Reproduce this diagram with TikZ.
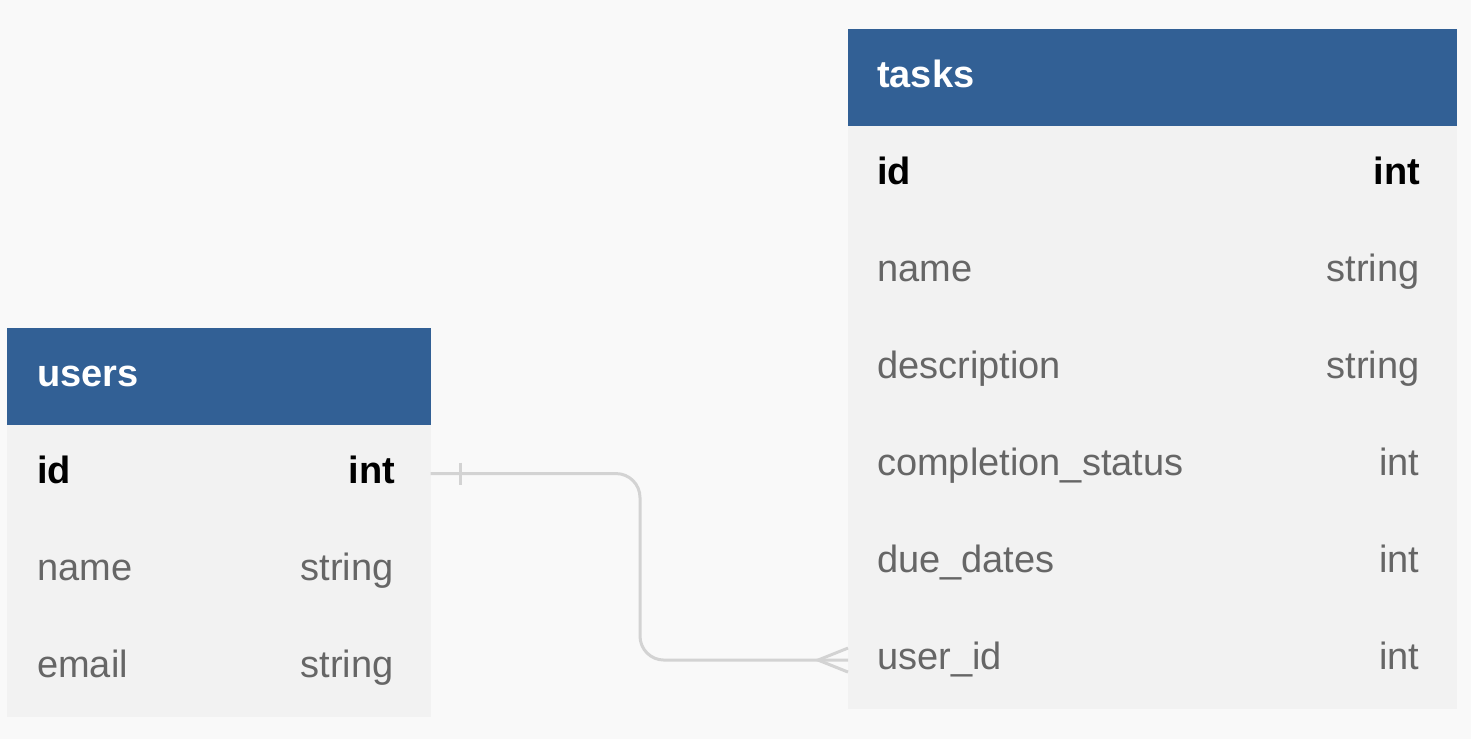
\documentclass[tikz,border=0pt]{standalone}
\usepackage{fontspec}
\setmainfont{Liberation Sans}
\definecolor{hdrblue}{HTML}{326095}
\definecolor{rowgray}{HTML}{F2F2F2}
\definecolor{bggray}{HTML}{F9F9F9}
\definecolor{txtgray}{HTML}{666666}
\definecolor{linkgray}{HTML}{D3D3D3}
\tikzset{
  hdr/.style={fill=hdrblue, draw=hdrblue, line width=0.6pt, inner sep=0pt, minimum height=96.5pt, anchor=north west},
  row/.style={fill=rowgray, draw=rowgray, line width=0.6pt, inner sep=0pt, minimum height=96.5pt, anchor=north west},
  hdrtxt/.style={text=white, font=\fontsize{38}{44}\selectfont\bfseries, inner sep=0pt, anchor=mid west, yshift=-7pt},
  keytxt/.style={text=black, font=\fontsize{38}{44}\selectfont\bfseries, inner sep=0pt, yshift=-7pt},
  coltxt/.style={text=txtgray, font=\fontsize{38}{44}\selectfont, inner sep=0pt, yshift=-7pt},
  link/.style={draw=linkgray, line width=3pt}
}
\begin{document}
\begin{tikzpicture}[x=1pt, y=-1pt]
  \fill[bggray] (0,0) rectangle (1471,739);
  \useasboundingbox (0,0) rectangle (1471,739);

  % users table
  \node[row, minimum width=423pt] (u1) at (7,425) {};
  \node[row, minimum width=423pt] (u2) at (u1.south west) {};
  \node[row, minimum width=423pt] (u3) at (u2.south west) {};
  \node[hdr, minimum width=423pt, anchor=south west] (users) at (u1.north west) {};
  \node[hdrtxt] (usersname) at ([xshift=30pt]users.west) {users};
  \node[keytxt, anchor=mid west] (u1a) at ([xshift=30pt]u1.west) {id};
  \node[keytxt, anchor=mid east] (u1b) at ([xshift=-35pt]u1.east) {int};
  \node[coltxt, anchor=mid west] (u2a) at ([xshift=30pt]u2.west) {name};
  \node[coltxt, anchor=mid east] (u2b) at ([xshift=-37pt]u2.east) {string};
  \node[coltxt, anchor=mid west] (u3a) at ([xshift=30pt]u3.west) {email};
  \node[coltxt, anchor=mid east] (u3b) at ([xshift=-37pt]u3.east) {string};

  % tasks table
  \node[row, minimum width=608pt] (t1) at (848,126) {};
  \foreach \n/\k/\t [count=\i from 2, evaluate=\i as \p using int(\i-1)] in
      {name/name/string, description/description/string,
       status/completion\_status/int, due/due\_dates/int, user/user\_id/int} {
    \node[row, minimum width=608pt] (t\i) at (t\p.south west) {};
    \node[coltxt, anchor=mid west] (t\i a) at ([xshift=29pt]t\i.west) {\k};
    \node[coltxt, anchor=mid east] (t\i b) at ([xshift=-37pt]t\i.east) {\t};
  }
  \node[hdr, minimum width=608pt, anchor=south west] (tasks) at (t1.north west) {};
  \node[hdrtxt] (tasksname) at ([xshift=29pt]tasks.west) {tasks};
  \node[keytxt, anchor=mid west] (t1a) at ([xshift=29pt]t1.west) {id};
  \node[keytxt, anchor=mid east] (t1b) at ([xshift=-36pt]t1.east) {int};

  % relation users.id -- tasks.user_id
  \coordinate (bend) at (640,0);
  \draw[link, rounded corners=24pt] (u1.east) -- (bend |- u1.east) -- (bend |- t6.west) -- (t6.west);
  \draw[link] ([xshift=30pt, yshift=11pt]u1.east) -- ([xshift=30pt, yshift=-11pt]u1.east);
  \draw[link] ([yshift=12pt]t6.west) -- ([xshift=-30pt]t6.west) -- ([yshift=-12pt]t6.west);
\end{tikzpicture}
\end{document}
